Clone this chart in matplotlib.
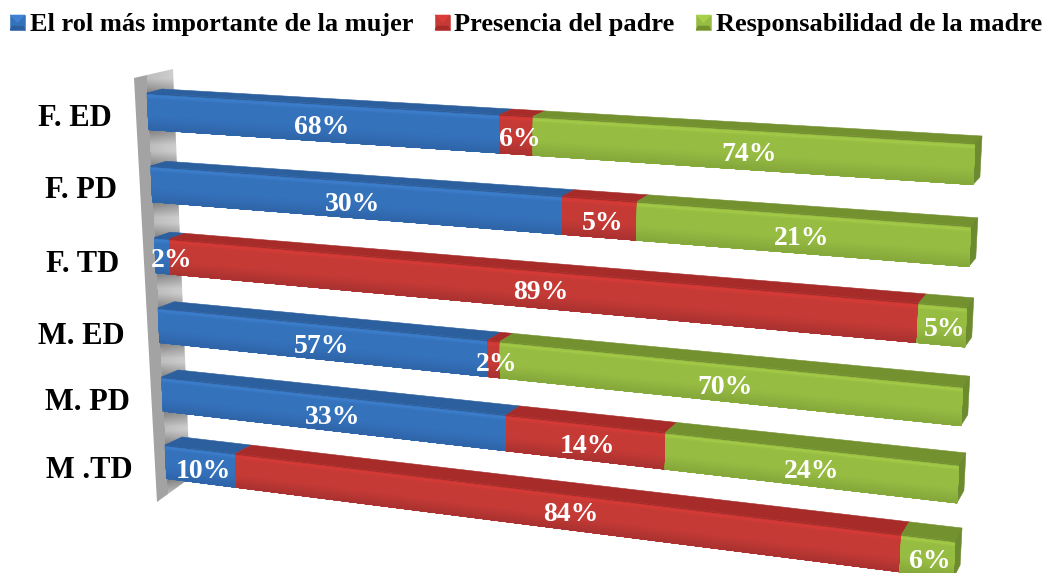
import numpy as np
import matplotlib
matplotlib.use('Agg')
import matplotlib.pyplot as plt
from matplotlib.colors import to_rgb
from matplotlib.patches import Polygon

WIDTH, HEIGHT = 1046, 573

# data, top row first
categories = ['F. ED', 'F. PD', 'F. TD', 'M. ED', 'M. PD', 'M .TD']
rol_mujer = [68, 30, 2, 57, 33, 10]
presencia_padre = [6, 5, 89, 2, 14, 84]
responsabilidad_madre = [74, 21, 5, 70, 24, 6]
series_names = ['El rol más importante de la mujer', 'Presencia del padre', 'Responsabilidad de la madre']

# colours per series: highlight, face, lower face, bottom edge, top face
palettes = [
    ['#3f82d2', '#3572bc', '#2f66aa', '#1c3b66', '#2c5f9e'],
    ['#dc3c38', '#c63a36', '#ab3230', '#6e1f1e', '#a62b29'],
    ['#a8d04a', '#97bc42', '#86a93b', '#566e27', '#74912f'],
]
side_colors = ['#2c5f9e', '#a62b29', '#6c8a2e']

# corners of the bar planes in pixels: top-left, top-right, bottom-left, bottom-right
FRONT = [(147, 93), (975, 143), (165, 445), (955, 541)]
BACK = [(162, 89), (982, 136), (182, 437), (962, 528)]
BAR_H = 0.5


def homography(corners):
    a, b = [], []
    for (u, v), (x, y) in zip([(0, 0), (1, 0), (0, 1), (1, 1)], corners):
        a.append([u, v, 1, 0, 0, 0, -u * x, -v * x])
        a.append([0, 0, 0, u, v, 1, -u * y, -v * y])
        b += [x, y]
    return np.append(np.linalg.solve(np.array(a, float), np.array(b, float)), 1).reshape(3, 3)


H_FRONT = homography(FRONT)
H_BACK = homography(BACK)


def project(share, row, depth=0):
    h = H_BACK if depth else H_FRONT
    p = h @ np.array([share, row / 5, 1])
    return p[0] / p[2], p[1] / p[2]


def quad(ax, pts, color, z=3, **kw):
    xs, ys = zip(*pts)
    ax.fill(xs, ys, color=color, lw=0.4, zorder=z, **kw)


def draw_wall(ax):
    outline = [(134, 78), (173, 69), (190, 478), (157, 502)]
    tops = [project(0, r)[1] for r in range(6)]
    bots = [project(0, r + BAR_H)[1] for r in range(6)]
    ys = np.arange(60, 510)
    xs = np.arange(130, 195)
    img = np.zeros((len(ys), len(xs)))
    for i, y in enumerate(ys):
        dist = min(min(abs(y - t), abs(y - b)) for t, b in zip(tops, bots))
        for j, x in enumerate(xs):
            left = 147 + (y - 93) * 18 / 352
            if x < left:
                img[i, j] = 0.64
            else:
                img[i, j] = 0.5 + 0.24 * min(1, dist / 15) + 0.06 * (x - left) / 25
    im = ax.imshow(img, cmap='gray', vmin=0, vmax=1, aspect='auto', zorder=1,
                   extent=(130, 195, 510, 60), interpolation='bilinear')
    im.set_clip_path(Polygon(outline, transform=ax.transData))


def draw_bar(ax, row, shares, colors):
    left = 0
    for s, (pal, share) in enumerate(zip(palettes, shares)):
        right = left + share
        # top face
        quad(ax, [project(left, row), project(right, row), project(right, row, 1), project(left, row, 1)], pal[4], z=3)
        # front face, painted in strips from top to bottom
        stops = [0, 0.05, 0.14, 0.6, 0.96, 1]
        rgb = [to_rgb(c) for c in [pal[4], pal[0], pal[1], pal[1], pal[2], pal[3]]]
        for t in np.linspace(0, 1, 24, endpoint=False):
            c = [np.interp(t, stops, [q[k] for q in rgb]) for k in range(3)]
            r0 = row + t * BAR_H
            r1 = row + BAR_H
            quad(ax, [project(left, r0), project(right, r0), project(right, r1), project(left, r1)], c, z=4)
        left = right
    # right end of the bar
    quad(ax, [project(1, row), project(1, row, 1), project(1, row + BAR_H, 1), project(1, row + BAR_H)], side_colors[2], z=3)


def draw_swatch(ax, x, y, pal):
    size = 15
    m = size / 2
    quad(ax, [(x, y), (x + size, y), (x + size, y + size), (x, y + size)], pal[1], z=5)
    quad(ax, [(x, y), (x + size, y), (x + m, y + m)], pal[0], z=6)
    quad(ax, [(x, y + size), (x + size, y + size), (x + size - 2, y + size - 4), (x + 2, y + size - 4)], pal[4], z=6)


fig = plt.figure(figsize=(WIDTH / 100, HEIGHT / 100), dpi=100)
ax = fig.add_axes([0, 0, 1, 1])
plt.rcParams['font.family'] = ['Liberation Serif']

draw_wall(ax)

values = np.array([rol_mujer, presencia_padre, responsabilidad_madre], float).T
for row, vals in enumerate(values):
    shares = vals / vals.sum()
    draw_bar(ax, row, shares, palettes)
    left = 0
    for val, share in zip(vals, shares):
        x, y = project(left + share / 2, row + BAR_H / 2)
        # the two long red bars have their labels pushed right of centre
        if share > 0.8:
            x += 17
        # thin first segment: label sits right of it
        if left == 0 and share < 0.03:
            x += 6
        ax.text(x + 3, y + 5, f'{val:.0f}%', color='white', fontsize=20, fontweight='bold',
                ha='center', va='center', zorder=8)
        left += share

# category labels
label_x = [75, 81, 83, 81, 87, 89]
label_y = [118, 190, 264, 336, 402, 471]
for name, x, y in zip(categories, label_x, label_y):
    ax.text(x, y, name, fontsize=22, fontweight='bold', ha='center', va='center', color='black')

# legend
swatch_x = [10, 435, 696]
text_x = [30, 454, 716]
for name, sx, tx, pal in zip(series_names, swatch_x, text_x, palettes):
    draw_swatch(ax, sx, 15, pal)
    ax.text(tx, 25, name, fontsize=19, fontweight='bold', ha='left', va='center', color='black')

ax.set_xlim(0, WIDTH)
ax.set_ylim(HEIGHT, 0)
ax.axis('off')
fig.savefig('out.png', dpi=100)
plt.close(fig)
